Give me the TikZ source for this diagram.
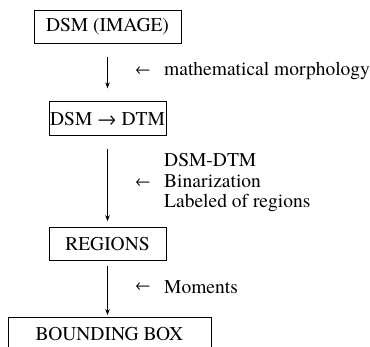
\documentclass[tikz,border=0pt]{standalone}
\usepackage{fontspec}
\setmainfont{TeX Gyre Termes}
\usetikzlibrary{positioning,arrows.meta}

\begin{document}
\begin{tikzpicture}[x=1pt, y=-1pt, font=\fontsize{19.5}{20.5}\selectfont,
  >={Stealth[length=6pt,width=4.5pt]},
  stage/.style={draw, line width=0.8pt, minimum height=33pt, inner sep=0pt},
  note/.style={anchor=west, inner sep=0pt, align=left}]
\useasboundingbox (0,0) rectangle (370,347);
\clip (0,0) rectangle (370,347);
\node [stage, minimum width=147pt] (dsm) at (107.5,26.5) {DSM (IMAGE)};
\node [stage, minimum width=117pt, minimum height=34pt] (dtm) [below = 58pt of dsm] {DSM → DTM};
\node [stage, minimum width=117pt] (reg) [below = 91pt of dtm] {REGIONS};
\node [stage, minimum width=203pt, minimum height=34pt] (bbox) [below = 56pt of reg, xshift=2pt] {BOUNDING BOX};
% operations beside the arrows
\node [scale=0.8] (larr1) at (143,71) {←};
\node [note] (morph) at (164,71) {mathematical morphology};
\node [scale=0.8] (larr2) at (143,183) {←};
\node [note] (binar) at (164,183) {DSM-DTM\\Binarization\\Labeled of regions};
\node [scale=0.8] (larr3) at (143,287) {←};
\node [note] (mom) at (164,287) {Moments};
\path[->, line width=0.8pt]
(dsm.south) edge [shorten <=14pt, shorten >=13pt] (dtm.north)
(dtm.south) edge [shorten <=13pt, shorten >=6pt] (reg.north)
(reg.south) edge [shorten <=5pt, shorten >=2pt] (reg.south |- bbox.north);
\end{tikzpicture}
\end{document}
